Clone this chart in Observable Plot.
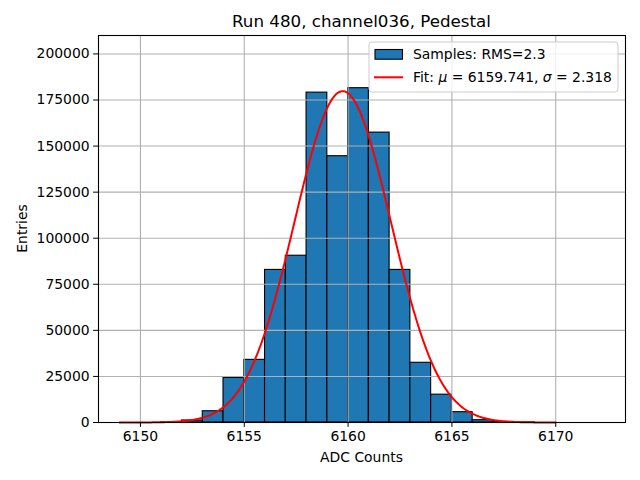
<!DOCTYPE html>
<html>
<head>
<meta charset="utf-8">
<script src="https://cdn.jsdelivr.net/npm/d3@7"></script>
<script src="https://cdn.jsdelivr.net/npm/@observablehq/plot@0.6"></script>
<style>
  html, body { margin: 0; padding: 0; background: white; }
  #chart svg { font-family: "DejaVu Sans", sans-serif; }
</style>
</head>
<body>
<div id="chart"></div>
<script>
// Histogram bins (left edges, width 1 ADC count) and counts
const binLeft = [6149, 6150, 6151, 6152, 6153, 6154, 6155, 6156, 6157, 6158, 6159, 6160, 6161, 6162, 6163, 6164, 6165, 6166, 6167, 6168, 6169, 6170, 6171];
const counts  = [0, 0, 100, 1100, 6100, 24200, 34000, 82800, 90500, 179000, 144500, 181400, 157300, 82800, 32400, 15100, 5600, 1250, 300, 50, 0, 0, 0];

// Gaussian fit parameters (from legend)
const fitMu = 6159.741;
const fitSigma = 2.318;
const fitAmp = 179800;
const fitRange = [6149, 6170];

const xTicks = [6150, 6155, 6160, 6165, 6170];
const yTicks = [0, 25000, 50000, 75000, 100000, 125000, 150000, 175000, 200000];

const titleText = "Run 480, channel036, Pedestal";
const xLabel = "ADC Counts";
const yLabel = "Entries";
const legendSamples = "Samples: RMS=2.3";

const bins = binLeft.map((b, i) => ({x1: b, x2: b + 1, y: counts[i]}));
const nFit = 400;
const fit = d3.range(nFit + 1).map(i => {
  const x = fitRange[0] + (fitRange[1] - fitRange[0]) * i / nFit;
  return {x, y: fitAmp * Math.exp(-0.5 * ((x - fitMu) / fitSigma) ** 2)};
});

const W = 640, H = 480;
const mL = 98, mR = 15, mT = 35, mB = 58;
const fs = 13.9;

const plot = Plot.plot({
  width: W, height: H,
  marginLeft: mL, marginRight: mR, marginTop: mT, marginBottom: mB,
  style: {fontFamily: "DejaVu Sans, sans-serif", fontSize: fs + "px", color: "black", background: "white"},
  x: {domain: [6147.98, 6173.36], label: null},
  y: {domain: [0, 210000], label: null},
  marks: [
    Plot.rectY(bins, {x1: "x1", x2: "x2", y: "y", fill: "#1f77b4", stroke: "black", strokeWidth: 1.1}),
    Plot.gridX(xTicks, {stroke: "#b0b0b0", strokeOpacity: 1, strokeWidth: 1.1}),
    Plot.gridY(yTicks, {stroke: "#b0b0b0", strokeOpacity: 1, strokeWidth: 1.1}),
    Plot.line(fit, {x: "x", y: "y", stroke: "red", strokeWidth: 2}),
    Plot.frame({stroke: "black", strokeWidth: 1.1}),
    Plot.axisX({ticks: xTicks, tickSize: 4.9, tickPadding: 4, tickFormat: d => String(d), fontSize: fs, label: null}),
    Plot.axisY({ticks: yTicks, tickSize: 4.9, tickPadding: 4, tickFormat: d => String(d), fontSize: fs, label: null})
  ]
});

document.getElementById("chart").appendChild(plot);

const svg = d3.select(plot);
const cx = mL + (W - mL - mR) / 2;

svg.append("text").attr("x", cx).attr("y", 27).attr("text-anchor", "middle")
  .style("font-size", "16.7px").attr("fill", "black").text(titleText);
svg.append("text").attr("x", cx).attr("y", 462).attr("text-anchor", "middle")
  .style("font-size", fs + "px").attr("fill", "black").text(xLabel);
svg.append("text").attr("transform", `translate(27, ${mT + (H - mT - mB) / 2}) rotate(-90)`)
  .attr("text-anchor", "middle").style("font-size", fs + "px").attr("fill", "black").text(yLabel);

// Legend
const lg = svg.append("g").attr("text-anchor", "start");
lg.append("rect").attr("x", 369).attr("y", 42).attr("width", 249).attr("height", 50)
  .attr("rx", 3).attr("fill", "white").attr("fill-opacity", 0.8).attr("stroke", "#cccccc").attr("stroke-width", 1);
lg.append("rect").attr("x", 375).attr("y", 49.5).attr("width", 27.5).attr("height", 9.7)
  .attr("fill", "#1f77b4").attr("stroke", "black").attr("stroke-width", 1.1);
lg.append("text").attr("x", 413).attr("y", 59).attr("text-anchor", "start")
  .style("font-size", fs + "px").attr("fill", "black").text(legendSamples);
lg.append("line").attr("x1", 374).attr("x2", 403).attr("y1", 77.3).attr("y2", 77.3)
  .attr("stroke", "red").attr("stroke-width", 2);
const t2 = lg.append("text").attr("x", 413).attr("y", 82).attr("text-anchor", "start")
  .style("font-size", fs + "px").attr("fill", "black");
t2.append("tspan").text("Fit: ");
t2.append("tspan").style("font-style", "italic").text("μ");
t2.append("tspan").text(" = " + fitMu.toFixed(3) + ", ");
t2.append("tspan").style("font-style", "italic").text("σ");
t2.append("tspan").text(" = " + fitSigma.toFixed(3));
</script>
</body>
</html>
